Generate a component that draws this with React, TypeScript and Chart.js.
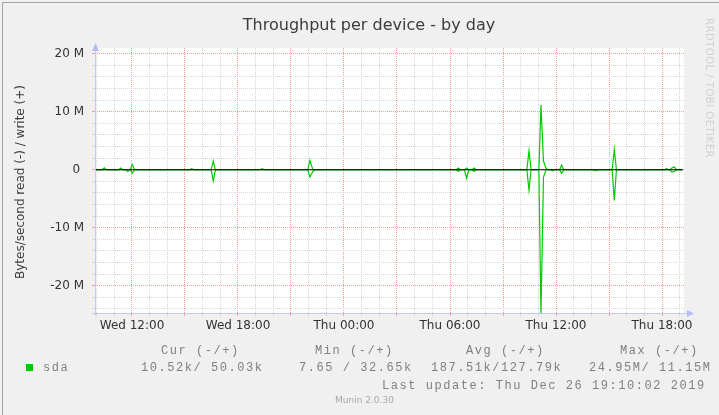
import React, { useEffect, useRef } from "react";
import { Chart, registerables } from "chart.js";
Chart.register(...registerables);

// ---- data (hours counted from Wed 00:00) ----
const spikeHours = [10.43, 11.36, 11.76, 12.02, 15.38, 16.6, 19.37, 22.07, 22.24, 30.47, 30.94, 31.37, 34.47, 35.15, 35.29, 35.43, 35.8, 36.32, 38.24, 39.3, 42.26, 42.56, 42.7];
const writeMBps = [0.35, 0.3, 0, 0.9, 0.2, 1.5, 0.2, 1.6, 0, 0.3, 0.3, 0.3, 3.25, 11.15, 1.5, 0.3, 0, 0.8, 0, 3.5, 0.2, 0.3, 0.5];
const readMBps = [0, 0, 0.3, 0.6, 0, 1.9, 0, 1.25, 0.3, 0.3, 1.5, 0.3, 3.5, 24.95, 1.3, 0, 0.2, 0.6, 0.2, 5.3, 0, 0.4, 0.3];
const spikeHalfHours = 0.12;
const dataStartHour = 9.906;
const dataEndHour = 43.17;
const zeroRule = 0;

const xMinHour = 9.906;
const xMaxHour = 43.245;
const yMin = -24.7e6;
const yMax = 21e6;

const xTickHours = [12, 18, 24, 30, 36, 42];
const xTickLabels = ["Wed 12:00", "Wed 18:00", "Thu 00:00", "Thu 06:00", "Thu 12:00", "Thu 18:00"];
const yTickValues = [-20e6, -10e6, 0, 10e6, 20e6];
const yTickLabels = ["-20 M", "-10 M", "0 ", "10 M", "20 M"];

const titleText = "Throughput per device - by day";
const yTitleText = "Bytes/second read (-) / write (+)";
const seriesName = "sda";
const legendHeaders = ["Cur (-/+)", "Min (-/+)", "Avg (-/+)", "Max (-/+)"];
const legendValues = ["10.52k/ 50.03k", "7.65 / 32.65k", "187.51k/127.79k", "24.95M/ 11.15M"];
const lastUpdate = "Last update: Thu Dec 26 19:10:02 2019";
const muninVersion = "Munin 2.0.30";
const watermark = "RRDTOOL / TOBI OETIKER";

function buildSeries(vals: number[], sign: number) {
  const pts: { x: number; y: number; base?: boolean }[] = [];
  spikeHours.forEach((t, i) => {
    pts.push({ x: t - spikeHalfHours, y: 0, base: true });
    pts.push({ x: t, y: sign * vals[i] * 1e6 });
    pts.push({ x: t + spikeHalfHours, y: 0, base: true });
  });
  const kept = pts.filter((p) => {
    if (!p.base) return true;
    return !spikeHours.some((t) => Math.abs(p.x - t) < spikeHalfHours - 1e-6);
  });
  kept.sort((a, b) => a.x - b.x);
  return [{ x: dataStartHour, y: 0 }, ...kept.map((p) => ({ x: p.x, y: p.y })), { x: dataEndHour, y: 0 }];
}

const MONO = "12px 'Liberation Mono', 'DejaVu Sans Mono', monospace";
const SANS = "'DejaVu Sans', sans-serif";

const decorPlugin = {
  id: "muninDecor",
  beforeDraw(chart: any) {
    const { ctx, chartArea: a, width, height } = chart;
    ctx.save();
    ctx.fillStyle = "#f0f0f0";
    ctx.fillRect(0, 0, width, height);
    ctx.fillStyle = "#ffffff";
    ctx.fillRect(a.left, a.top, a.right - a.left, a.bottom - a.top);
    ctx.strokeStyle = "#a4a4a4";
    ctx.lineWidth = 1;
    ctx.beginPath();
    ctx.moveTo(2.5, height);
    ctx.lineTo(2.5, 2.5);
    ctx.lineTo(width, 2.5);
    ctx.stroke();
    ctx.restore();
  },
  afterDraw(chart: any) {
    const { ctx, chartArea: a } = chart;
    ctx.save();
    // axes + arrows
    const axisCol = "#c2caf4";
    ctx.strokeStyle = axisCol;
    ctx.fillStyle = "#b4bef4";
    ctx.lineWidth = 1;
    ctx.beginPath();
    ctx.moveTo(a.left + 0.5, a.bottom + 3);
    ctx.lineTo(a.left + 0.5, a.top - 3);
    ctx.moveTo(a.left - 3, a.bottom + 0.5);
    ctx.lineTo(a.right + 4, a.bottom + 0.5);
    ctx.stroke();
    ctx.beginPath();
    ctx.moveTo(a.left + 0.5, a.top - 5);
    ctx.lineTo(a.left - 3, a.top + 3);
    ctx.lineTo(a.left + 4, a.top + 3);
    ctx.closePath();
    ctx.fill();
    ctx.beginPath();
    ctx.moveTo(a.right + 10, a.bottom + 0.5);
    ctx.lineTo(a.right + 3, a.bottom - 3);
    ctx.lineTo(a.right + 3, a.bottom + 4);
    ctx.closePath();
    ctx.fill();

    // title
    ctx.fillStyle = "#3c3c3c";
    ctx.font = `16px ${SANS}`;
    ctx.textAlign = "center";
    ctx.textBaseline = "alphabetic";
    ctx.fillText(titleText, 369, 30);

    // y title
    ctx.save();
    ctx.translate(21, 182);
    ctx.rotate(-Math.PI / 2);
    ctx.font = `12px ${SANS}`;
    ctx.textBaseline = "middle";
    ctx.fillStyle = "#3c3c3c";
    ctx.fillText(yTitleText, 0, 0);
    ctx.restore();

    // watermark
    ctx.save();
    ctx.translate(709, 88);
    ctx.rotate(Math.PI / 2);
    ctx.font = `10px ${SANS}`;
    (ctx as any).letterSpacing = "0.5px";
    ctx.textAlign = "center";
    ctx.textBaseline = "middle";
    ctx.fillStyle = "#d0d0d0";
    ctx.fillText(watermark, 0, 0);
    ctx.restore();

    // legend
    ctx.fillStyle = "#00cc00";
    ctx.fillRect(26, 364, 7, 7);
    ctx.font = MONO;
    (ctx as any).letterSpacing = "1.55px";
    ctx.textAlign = "left";
    ctx.textBaseline = "middle";
    ctx.fillStyle = "#808080";
    ctx.fillText(seriesName, 43, 368);
    const headerX = [161, 315, 466, 620];
    const valueX = [141, 299, 431, 589];
    legendHeaders.forEach((h, i) => ctx.fillText(h, headerX[i], 351));
    legendValues.forEach((v, i) => ctx.fillText(v, valueX[i], 368));
    ctx.fillText(lastUpdate, 382, 386);
    (ctx as any).letterSpacing = "0px";

    ctx.font = `9px ${SANS}`;
    ctx.fillStyle = "#a8a8a8";
    ctx.fillText(muninVersion, 335, 401);
    ctx.restore();
  },
};

export default function App() {
  const ref = useRef<HTMLCanvasElement | null>(null);
  useEffect(() => {
    document.body.style.margin = "0";
    const canvas = ref.current!;
    const red = "#f09a9a";
    const gray = "#d6d6d6";
    const chart = new Chart(canvas, {
      type: "line",
      data: {
        datasets: [
          {
            label: "zero",
            data: [
              { x: dataStartHour, y: zeroRule },
              { x: dataEndHour, y: zeroRule },
            ],
            borderColor: "#000000",
            borderWidth: 1,
            pointRadius: 0,
          },
          {
            label: "sda write",
            data: buildSeries(writeMBps, 1),
            borderColor: "#00cc00",
            borderWidth: 1.2,
            pointRadius: 0,
          },
          {
            label: "sda read",
            data: buildSeries(readMBps, -1),
            borderColor: "#00cc00",
            borderWidth: 1.2,
            pointRadius: 0,
          },
        ],
      },
      options: {
        responsive: false,
        animation: false,
        devicePixelRatio: 1,
        events: [],
        layout: { padding: { left: 0, top: 48, right: 719 - 684, bottom: 72 } },
        elements: { line: { tension: 0 }, point: { radius: 0 } },
        plugins: { legend: { display: false }, title: { display: false }, tooltip: { enabled: false } },
        scales: {
          x: {
            type: "linear",
            min: xMinHour,
            max: xMaxHour,
            afterBuildTicks: (s: any) => {
              const t = [];
              for (let h = Math.ceil(xMinHour); h <= xMaxHour; h++) t.push({ value: h });
              s.ticks = t;
            },
            afterFit: (s: any) => {
              s.height = 30;
            },
            ticks: {
              autoSkip: false,
              maxRotation: 0,
              minRotation: 0,
              padding: 3,
              color: "#333333",
              font: { family: "'DejaVu Sans', sans-serif", size: 12 },
              callback: (v: any) => {
                const i = xTickHours.indexOf(Number(v));
                return i >= 0 ? xTickLabels[i] : "";
              },
            },
            grid: {
              color: (c: any) => (c.tick && Math.round(c.tick.value) % 3 === 0 ? red : gray),
              lineWidth: 1,
              drawTicks: true,
              tickLength: 3,
            },
            border: { display: false, dash: [1, 1] },
          },
          y: {
            type: "linear",
            min: yMin,
            max: yMax,
            afterBuildTicks: (s: any) => {
              const t = [];
              for (let v = -24e6; v <= 20e6; v += 2e6) t.push({ value: v });
              s.ticks = t;
            },
            afterFit: (s: any) => {
              s.width = 95;
            },
            ticks: {
              autoSkip: false,
              padding: 8,
              color: "#333333",
              font: { family: "'DejaVu Sans', sans-serif", size: 12 },
              callback: (v: any) => {
                const i = yTickValues.indexOf(Number(v));
                return i >= 0 ? yTickLabels[i] : "";
              },
            },
            grid: {
              color: (c: any) => (c.tick && c.tick.value % 10e6 === 0 ? red : gray),
              lineWidth: 1,
              drawTicks: true,
              tickLength: 3,
            },
            border: { display: false, dash: [1, 1] },
          },
        },
      },
      plugins: [decorPlugin],
    } as any);
    return () => chart.destroy();
  }, []);
  return (
    <div style={{ position: "absolute", left: 0, top: 0, width: 719, height: 415 }}>
      <canvas ref={ref} width={719} height={415} style={{ display: "block", width: 719, height: 415 }} />
    </div>
  );
}
